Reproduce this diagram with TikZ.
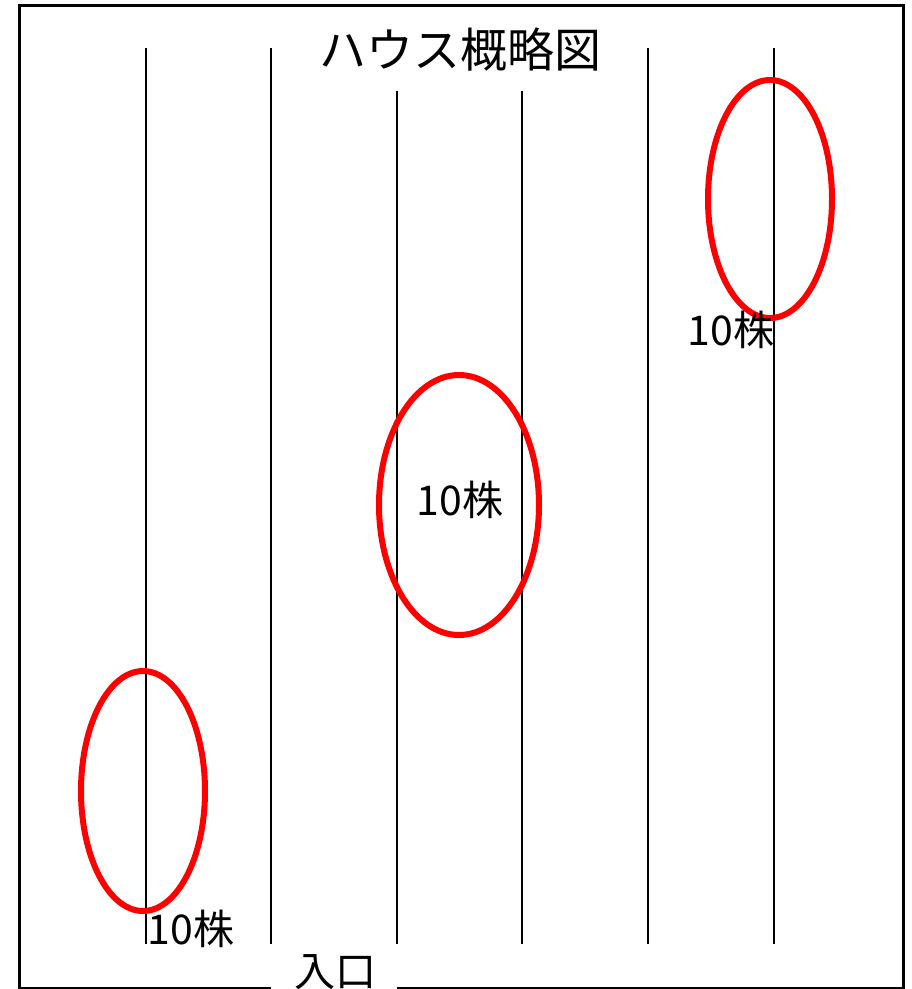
\documentclass[tikz,border=0pt]{standalone}
\usepackage{fontspec}
\newfontfamily\jp{Noto Sans CJK JP}
\begin{document}
\begin{tikzpicture}[x=1pt,y=-1pt,
  rowline/.style={line width=2pt},
  wall/.style={line width=3pt},
  plant/.style={draw=red, line width=6pt},
  lbl/.style={font=\jp\fontsize{41}{44}\selectfont, inner sep=0pt},
  ttl/.style={font=\jp\fontsize{47}{50}\selectfont, inner sep=0pt}]
\useasboundingbox (0,0) rectangle (912,989);
% outer wall with the entrance gap
\draw[wall] (271,988) -- (19,988) -- (19,5) -- (903,5) -- (903,988) -- (397,988);
% planting rows
\foreach \x/\t in {146/48,271/48,397/91,522/91,648/48,774/48}
  \draw[rowline] (\x,\t) -- (\x,944);
% title
\node[ttl] (title) at (460,50) {ハウス概略図};
% plant groups
\draw[plant] (770,199) ellipse [x radius=62pt, y radius=119pt];
\draw[plant] (459,505) ellipse [x radius=80pt, y radius=130pt];
\draw[plant] (143,791) ellipse [x radius=62pt, y radius=120pt];
% labels
\node[lbl] (l1) at (731,330) {10株};
\node[lbl] (l2) at (460,500) {10株};
\node[lbl] (l3) at (191,929) {10株};
\node[lbl] (door) at (335,972) {入口};
\end{tikzpicture}
\end{document}
